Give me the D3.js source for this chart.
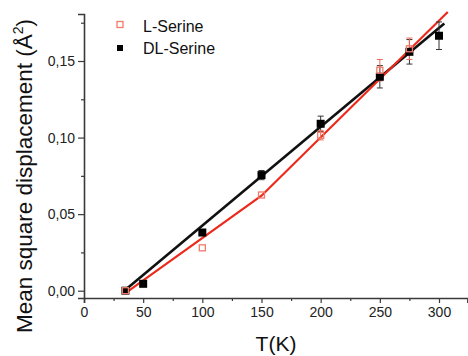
<!DOCTYPE html>
<html><head><meta charset="utf-8">
<script src="https://cdn.jsdelivr.net/npm/d3@7"></script>
<style>body{margin:0;background:#fff}svg{display:block}text{font-family:"Liberation Sans",Arial,sans-serif}</style>
</head><body><svg id="c" width="468" height="356"></svg>
<script>
// Data
const seriesNames = ["L-Serine", "DL-Serine"];
const lT = [35, 100, 150, 200, 250, 275];
const lV = [0.000, 0.028, 0.0625, 0.1015, 0.144, 0.158];
const lErr = [0, 0, 0, 0.003, 0.007, 0.007];
const dlT = [35, 50, 100, 150, 200, 250, 275, 300];
const dlV = [0.000, 0.0045, 0.038, 0.0755, 0.109, 0.1397, 0.156, 0.1665];
const dlErr = [0, 0, 0, 0.003, 0.005, 0.0073, 0.008, 0.009];
const lFitT = [34.7, 150, 307.4];
const lFitV = [-0.0017, 0.062, 0.182];
const dlFitT = [33.3, 304.5];
const dlFitV = [-0.0006, 0.1745];
const xTicks = [0, 50, 100, 150, 200, 250, 300];
const xMinor = [25, 75, 125, 175, 225, 275, 325];
const yTicks = [0, 0.05, 0.10, 0.15];
const yMinor = [0.025, 0.075, 0.125, 0.175];

const svg = d3.select("#c");
const x = d3.scaleLinear().domain([0, 324]).range([84, 467.4]);
const y = d3.scaleLinear().domain([-0.00477, 0.1807]).range([298, 14]);
const fmt = v => d3.format(".2f")(v).replace(".", ",");
const axisCol = "#3a3a3a";

// Axes
svg.append("g").attr("transform", "translate(0,298)")
  .call(d3.axisBottom(x).tickValues(xTicks).tickSize(5).tickPadding(4).tickFormat(d3.format("d")));
svg.append("g").attr("transform", "translate(0,298)")
  .call(d3.axisBottom(x).tickValues(xMinor).tickSize(3).tickFormat(""))
  .select(".domain").remove();
svg.append("g").attr("transform", "translate(84,0)")
  .call(d3.axisLeft(y).tickValues(yTicks).tickSize(6).tickPadding(3).tickFormat(fmt));
svg.append("g").attr("transform", "translate(84,0)")
  .call(d3.axisLeft(y).tickValues(yMinor).tickSize(3).tickFormat(""))
  .select(".domain").remove();
svg.selectAll(".domain").attr("stroke", axisCol).attr("stroke-width", 1.6);
svg.selectAll(".tick line").attr("stroke", axisCol).attr("stroke-width", 1.2);
svg.selectAll(".tick text").attr("fill", "#222").style("font-size", "14px").style("font-family", "'Liberation Sans', Arial, sans-serif");

// Axis titles
svg.append("text").attr("x", 276).attr("y", 351).attr("text-anchor", "middle")
  .style("font-size", "21px").attr("fill", "#111").text("T(K)");
const yl = svg.append("text").attr("transform", "translate(32,176) rotate(-90)")
  .attr("text-anchor", "middle").style("font-size", "22.5px").attr("fill", "#111");
yl.append("tspan").text("Mean square displacement (Å");
yl.append("tspan").attr("dy", -9).style("font-size", "14px").text("2");
yl.append("tspan").attr("dy", 9).text(")");

// Fit lines
const line = d3.line().x(d => x(d[0])).y(d => y(d[1]));
svg.append("path").datum(dlFitT.map((t, i) => [t, dlFitV[i]]))
  .attr("d", line).attr("fill", "none").attr("stroke", "#111").attr("stroke-width", 2.6);
svg.append("path").datum(lFitT.map((t, i) => [t, lFitV[i]]))
  .attr("d", line).attr("fill", "none").attr("stroke", "#ec2a1c").attr("stroke-width", 2.2);

// Error bars
function errBars(T, V, E, col) {
  const g = svg.append("g").attr("stroke", col).attr("stroke-width", 1);
  T.forEach((t, i) => {
    if (!E[i]) return;
    const cx = x(t), y1 = y(V[i] + E[i]), y2 = y(V[i] - E[i]);
    g.append("line").attr("x1", cx).attr("x2", cx).attr("y1", y1).attr("y2", y2);
    g.append("line").attr("x1", cx - 3).attr("x2", cx + 3).attr("y1", y1).attr("y2", y1);
    g.append("line").attr("x1", cx - 3).attr("x2", cx + 3).attr("y1", y2).attr("y2", y2);
  });
}
errBars(dlT, dlV, dlErr, "#333");
errBars(lT, lV, lErr, "#f06a5a");

// Markers
svg.append("g").selectAll("rect").data(dlT).join("rect")
  .attr("x", (d, i) => x(d) - 4).attr("y", (d, i) => y(dlV[i]) - 4)
  .attr("width", 8).attr("height", 8).attr("fill", "#000");
svg.append("g").selectAll("rect").data(lT).join("rect")
  .attr("x", (d, i) => x(d) - 3).attr("y", (d, i) => y(lV[i]) - 3)
  .attr("width", 6).attr("height", 6).attr("fill", "none")
  .attr("stroke", "#f27a6a").attr("stroke-width", 1.3);

// Legend
const lg = svg.append("g");
lg.append("rect").attr("x", 117).attr("y", 21.5).attr("width", 6).attr("height", 6)
  .attr("fill", "none").attr("stroke", "#f27a6a").attr("stroke-width", 1.3);
lg.append("rect").attr("x", 117).attr("y", 45).attr("width", 6).attr("height", 6).attr("fill", "#000");
lg.append("text").attr("x", 143).attr("y", 31.5).style("font-size", "16px").attr("fill", "#111").text(seriesNames[0]);
lg.append("text").attr("x", 143).attr("y", 53.5).style("font-size", "16px").attr("fill", "#111").text(seriesNames[1]);
</script></body></html>
